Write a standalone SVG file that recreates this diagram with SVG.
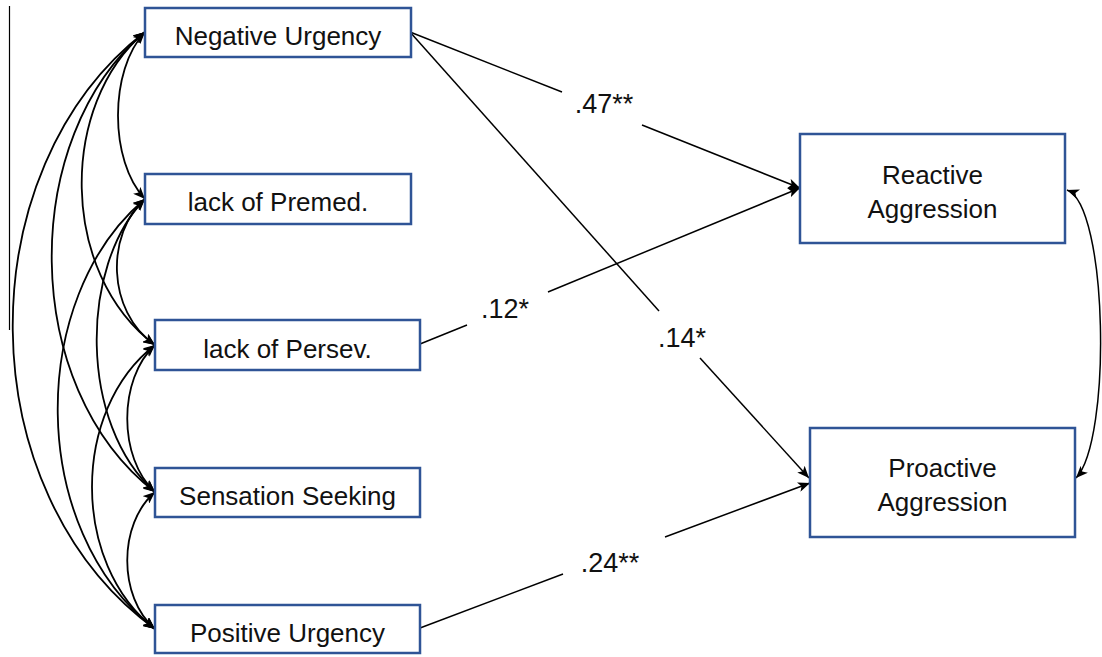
<svg xmlns="http://www.w3.org/2000/svg" width="1102" height="657" viewBox="0 0 1102 657">
<style>
.box{fill:#fff;stroke:#2F5496;stroke-width:2.5}
.t{font-family:"Liberation Sans",Arial,sans-serif;font-size:26px;fill:#111;text-anchor:middle}
.lab{font-family:"Liberation Sans",Arial,sans-serif;font-size:27px;fill:#111;text-anchor:middle}
.c{fill:none;stroke:#000;stroke-width:1.5}
.cv{fill:none;stroke:#000;stroke-width:1.8}
</style>
<defs>
<marker id="ah" viewBox="0 0 12 10" refX="12" refY="5" markerWidth="12" markerHeight="10" markerUnits="userSpaceOnUse" orient="auto-start-reverse">
<path d="M0,0 L12,5 L0,10 L3,5 z" fill="#000"/>
</marker>
</defs>
<rect x="0" y="0" width="1102" height="657" fill="#fff"/>
<line x1="9.5" y1="6" x2="9.5" y2="330" stroke="#000" stroke-width="1.2"/>
<g id="connectors">
<!-- correlations among predictors -->
<path class="cv" d="M145,32 C109,70 109,161 145,199" marker-start="url(#ah)" marker-end="url(#ah)"/>
<path class="cv" d="M145,199 C106,233 106,311 155,345" marker-start="url(#ah)" marker-end="url(#ah)"/>
<path class="cv" d="M155,345 C118,379 118,458 155,492" marker-start="url(#ah)" marker-end="url(#ah)"/>
<path class="cv" d="M155,492 C118,524 118,597 155,629" marker-start="url(#ah)" marker-end="url(#ah)"/>
<path class="cv" d="M145,32 C59,104 59,273 155,345" marker-start="url(#ah)" marker-end="url(#ah)"/>
<path class="cv" d="M145,199 C79,266 79,425 155,492" marker-start="url(#ah)" marker-end="url(#ah)"/>
<path class="cv" d="M155,345 C71,410 71,564 155,629" marker-start="url(#ah)" marker-end="url(#ah)"/>
<path class="cv" d="M145,32 C19,137 19,387 155,492" marker-start="url(#ah)" marker-end="url(#ah)"/>
<path class="cv" d="M145,199 C27,298 27,530 155,629" marker-start="url(#ah)" marker-end="url(#ah)"/>
<path class="cv" d="M145,32 C-33,169 -33,492 155,629" marker-start="url(#ah)" marker-end="url(#ah)"/>
<!-- paths -->
<line class="c" x1="410" y1="32" x2="562" y2="92"/>
<line class="c" x1="642" y1="125" x2="800" y2="188" marker-end="url(#ah)"/>
<line class="c" x1="410" y1="32" x2="659" y2="311"/>
<line class="c" x1="700" y1="358" x2="809" y2="478" marker-end="url(#ah)"/>
<line class="c" x1="420" y1="344" x2="467" y2="325"/>
<line class="c" x1="548" y1="292" x2="800" y2="188" marker-end="url(#ah)"/>
<line class="c" x1="420" y1="628" x2="563" y2="574"/>
<line class="c" x1="665" y1="537" x2="810" y2="483" marker-end="url(#ah)"/>
<!-- residual correlation -->
<path class="c" d="M1067,190 C1108,205 1112,440 1076,478" marker-start="url(#ah)" marker-end="url(#ah)"/>
</g>
<g id="labels">
<text class="lab" x="604" y="113">.47**</text>
<text class="lab" x="505" y="318">.12*</text>
<text class="lab" x="682" y="347">.14*</text>
<text class="lab" x="610" y="572">.24**</text>
</g>
<g id="negative-urgency">
<rect class="box" x="145" y="8" width="266" height="49"/>
<text class="t" x="278" y="45">Negative Urgency</text>
</g>
<g id="lack-of-premed">
<rect class="box" x="145" y="174" width="266" height="50"/>
<text class="t" x="278" y="211">lack of Premed.</text>
</g>
<g id="lack-of-persev">
<rect class="box" x="155" y="320" width="265" height="50"/>
<text class="t" x="287.5" y="358">lack of Persev.</text>
</g>
<g id="sensation-seeking">
<rect class="box" x="155" y="468" width="265" height="49"/>
<text class="t" x="287.5" y="505">Sensation Seeking</text>
</g>
<g id="positive-urgency">
<rect class="box" x="155" y="605" width="265" height="48"/>
<text class="t" x="287.5" y="642">Positive Urgency</text>
</g>
<g id="reactive-aggression">
<rect class="box" x="800" y="134" width="265" height="109"/>
<text class="t" x="932.5" y="184">Reactive</text>
<text class="t" x="932.5" y="218">Aggression</text>
</g>
<g id="proactive-aggression">
<rect class="box" x="810" y="428" width="265" height="109"/>
<text class="t" x="942.5" y="477">Proactive</text>
<text class="t" x="942.5" y="511">Aggression</text>
</g>
</svg>
